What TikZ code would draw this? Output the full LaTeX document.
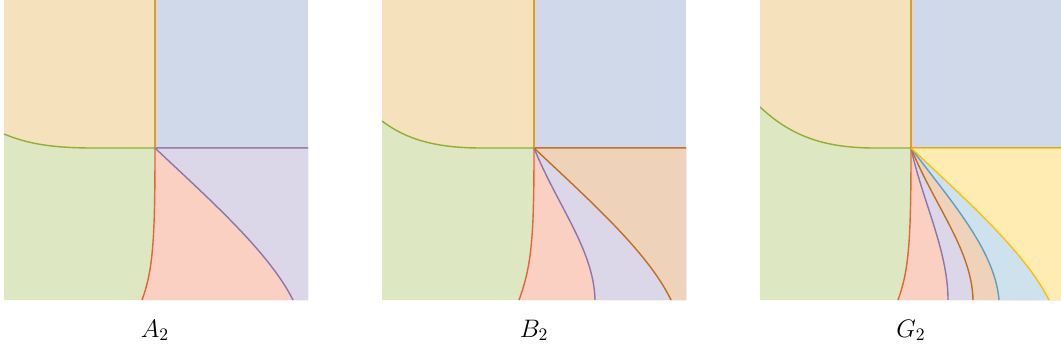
\documentclass[tikz,border=0pt]{standalone}
\usetikzlibrary{positioning}
\definecolor{narancs}{HTML}{E19C24}
\definecolor{kek}{HTML}{5E81B5}
\definecolor{zold}{HTML}{8FB032}
\definecolor{piros}{HTML}{EB6235}
\definecolor{lila}{HTML}{8778B3}
\definecolor{barna}{HTML}{C56E1A}
\definecolor{vkek}{HTML}{5D9EC7}
\definecolor{sarga}{HTML}{FFBF00}
\tikzset{
  hatar/.style={line width=0.8pt},
  felirat/.style={anchor=base,font=\Large},
}
\begin{document}
\begin{tikzpicture}[x=0.02cm,y=-0.02cm]
  \useasboundingbox (0,0) rectangle (1061,360);
  % A_2 tartomanyok
  \begin{scope}[shift={(4,0)}]
    \fill[narancs!30] (0,0) rectangle (151,148);
    \fill[kek!30] (151,0) rectangle (304,148);
    \fill[zold!30] (0,134) .. controls (22,143) and (45,148) .. (90,148) -- (304,148) -- (304,300) -- (0,300) -- cycle;
    \foreach \szin/\ax/\ay/\bx/\by/\vx in {piros/151/240/149/270/138, lila/205/199/265/252/289} {
      \fill[\szin!30] (151,148) .. controls (\ax,\ay) and (\bx,\by) .. (\vx,300) -- (304,300) -- (304,148) -- cycle;
      \draw[hatar,\szin] (304,148) -- (151,148) .. controls (\ax,\ay) and (\bx,\by) .. (\vx,300);
    }
    \draw[hatar,narancs] (151,0) -- (151,148);
    \draw[hatar,zold] (0,134) .. controls (22,143) and (45,148) .. (90,148) -- (151,148);
  \end{scope}
  % B_2 tartomanyok
  \begin{scope}[shift={(382,0)}]
    \fill[narancs!30] (0,0) rectangle (152,148);
    \fill[kek!30] (152,0) rectangle (304,148);
    \fill[zold!30] (0,121) .. controls (25,140) and (55,148) .. (100,148) -- (304,148) -- (304,300) -- (0,300) -- cycle;
    \foreach \szin/\ax/\ay/\bx/\by/\vx in {piros/152/235/150/265/137, lila/175/205/212/250/213, barna/206/199/266/252/289} {
      \fill[\szin!30] (152,148) .. controls (\ax,\ay) and (\bx,\by) .. (\vx,300) -- (304,300) -- (304,148) -- cycle;
      \draw[hatar,\szin] (304,148) -- (152,148) .. controls (\ax,\ay) and (\bx,\by) .. (\vx,300);
    }
    \draw[hatar,narancs] (152,0) -- (152,148);
    \draw[hatar,zold] (0,121) .. controls (25,140) and (55,148) .. (100,148) -- (152,148);
  \end{scope}
  % G_2 tartomanyok
  \begin{scope}[shift={(760,0)}]
    \clip (0,0) rectangle (301,300);
    \fill[narancs!30] (0,0) rectangle (151,148);
    \fill[kek!30] (151,0) rectangle (304,148);
    \fill[zold!30] (0,107) .. controls (30,135) and (62,148) .. (115,148) -- (304,148) -- (304,300) -- (0,300) -- cycle;
    \foreach \szin/\ax/\ay/\bx/\by/\vx in {piros/151/240/149/270/138, lila/162/200/188/250/188,
        barna/174/205/212/250/213, vkek/190/200/235/250/239, sarga/205/199/265/252/289} {
      \fill[\szin!30] (151,148) .. controls (\ax,\ay) and (\bx,\by) .. (\vx,300) -- (304,300) -- (304,148) -- cycle;
      \draw[hatar,\szin] (304,148) -- (151,148) .. controls (\ax,\ay) and (\bx,\by) .. (\vx,300);
    }
    \draw[hatar,narancs] (151,0) -- (151,148);
    \draw[hatar,zold] (0,107) .. controls (30,135) and (62,148) .. (115,148) -- (151,148);
  \end{scope}
  % feliratok
  \node[felirat] (a2) at (155,337) {$A_2$};
  \node[felirat] (b2) at (534,337) {$B_2$};
  \node[felirat] (g2) at (911,337) {$G_2$};
\end{tikzpicture}
\end{document}
